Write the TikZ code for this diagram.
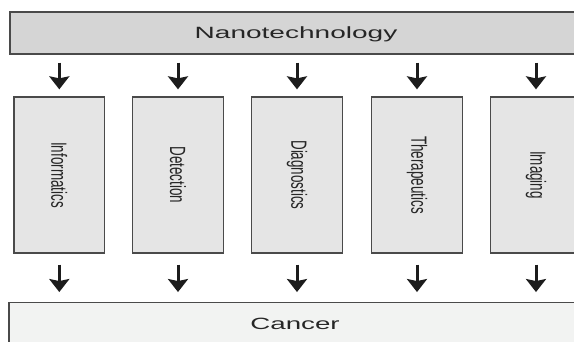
\documentclass[tikz,border=0pt]{standalone}
\usepackage{fontspec}
\setmainfont{Liberation Sans}
\usepackage{graphicx}
\usetikzlibrary{arrows.meta}
\definecolor{topfill}{HTML}{D5D5D5}
\definecolor{midfill}{HTML}{E5E5E5}
\definecolor{botfill}{HTML}{F2F3F2}
\definecolor{edge}{HTML}{4A4A4A}
\definecolor{txt}{HTML}{262626}
\definecolor{arrcol}{HTML}{1C1C1C}
\newcommand{\vlabel}[1]{\rotatebox{-90}{\scalebox{0.61}[1]{#1}}}
\newcommand{\hlabel}[1]{\scalebox{1.72}[1]{#1}}
\begin{document}
\begin{tikzpicture}[x=1pt,y=-1pt,
  wide/.style={draw=edge, line width=1.3pt, minimum width=572pt, minimum height=42pt,
    inner sep=0pt, text=txt, text height=11.7pt, text depth=0pt,
    font=\fontsize{16.3}{18}\selectfont},
  col/.style={draw=edge, line width=1.3pt, fill=midfill, minimum width=90.5pt,
    minimum height=156pt, inner sep=0pt, text=txt, font=\fontsize{22}{24}\selectfont},
  arr/.style={line width=3pt, draw=arrcol, -{Stealth[width=20pt,length=13pt,inset=2pt]}}]
\clip (0,0) rectangle (574,342);
\fill[white] (0,0) rectangle (574,342);
\node[wide, fill=topfill] (nano) at (296,33) {\hlabel{Nanotechnology}};
\node[col] (inf) at (59.3,175) {\vlabel{Informatics}};
\node[col] (det) at (178,175) {\vlabel{Detection}};
\node[col] (dia) at (297,175) {\vlabel{Diagnostics}};
\node[col] (the) at (417,175) {\vlabel{Therapeutics}};
\node[col] (ima) at (536,175) {\vlabel{Imaging}};
\node[wide, fill=botfill] (can) at (295,323.7) {\scalebox{1.70}[1]{Cancer}};
\foreach \n in {inf,det,dia,the,ima} {
  \draw[arr, shorten <=8pt, shorten >=7pt] (\n.north |- nano.south) -- (\n.north);
  \draw[arr, shorten <=11pt, shorten >=10pt] (\n.south) -- (\n.south |- can.north);
}
\end{tikzpicture}
\end{document}
